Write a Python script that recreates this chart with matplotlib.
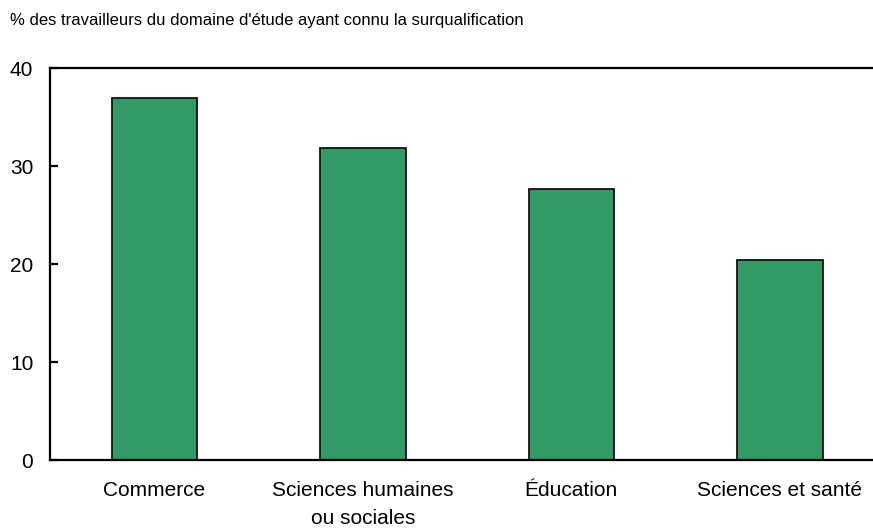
import matplotlib

matplotlib.use("Agg")

import matplotlib.pyplot as plt

plt.rcParams["font.family"] = ["Liberation Sans", "DejaVu Sans"]

categories = ["Commerce", "Sciences humaines\nou sociales", "Éducation", "Sciences et santé"]
values = [36.9, 31.8, 27.7, 20.4]
yticks = [0, 10, 20, 30, 40]
title = "% des travailleurs du domaine d'étude ayant connu la surqualification"

fig = plt.figure(figsize=(8.73, 5.29), dpi=100)
ax = fig.add_axes([50 / 873, 69 / 529, 823 / 873, 392 / 529])

x = range(len(categories))
ax.bar(x, values, width=0.41, color="#339966", edgecolor="#111111", linewidth=1.3)

ax.set_xlim(-0.5, 3.447)
ax.set_ylim(0, 40)
ax.set_yticks(yticks)
ax.set_xticks(list(x))
ax.set_xticklabels(categories, linespacing=1.6)

for side in ("left", "bottom", "top"):
    ax.spines[side].set_linewidth(1.6)
    ax.spines[side].set_color("black")
ax.spines["right"].set_visible(False)

ax.tick_params(axis="y", direction="in", length=6, width=1.6, pad=12, labelsize=15)
ax.tick_params(axis="x", length=0, pad=15, labelsize=15)

fig.text(10 / 873, 1 - 21 / 529, title, fontsize=12, va="center", ha="left")

fig.savefig("out.png", dpi=100)
